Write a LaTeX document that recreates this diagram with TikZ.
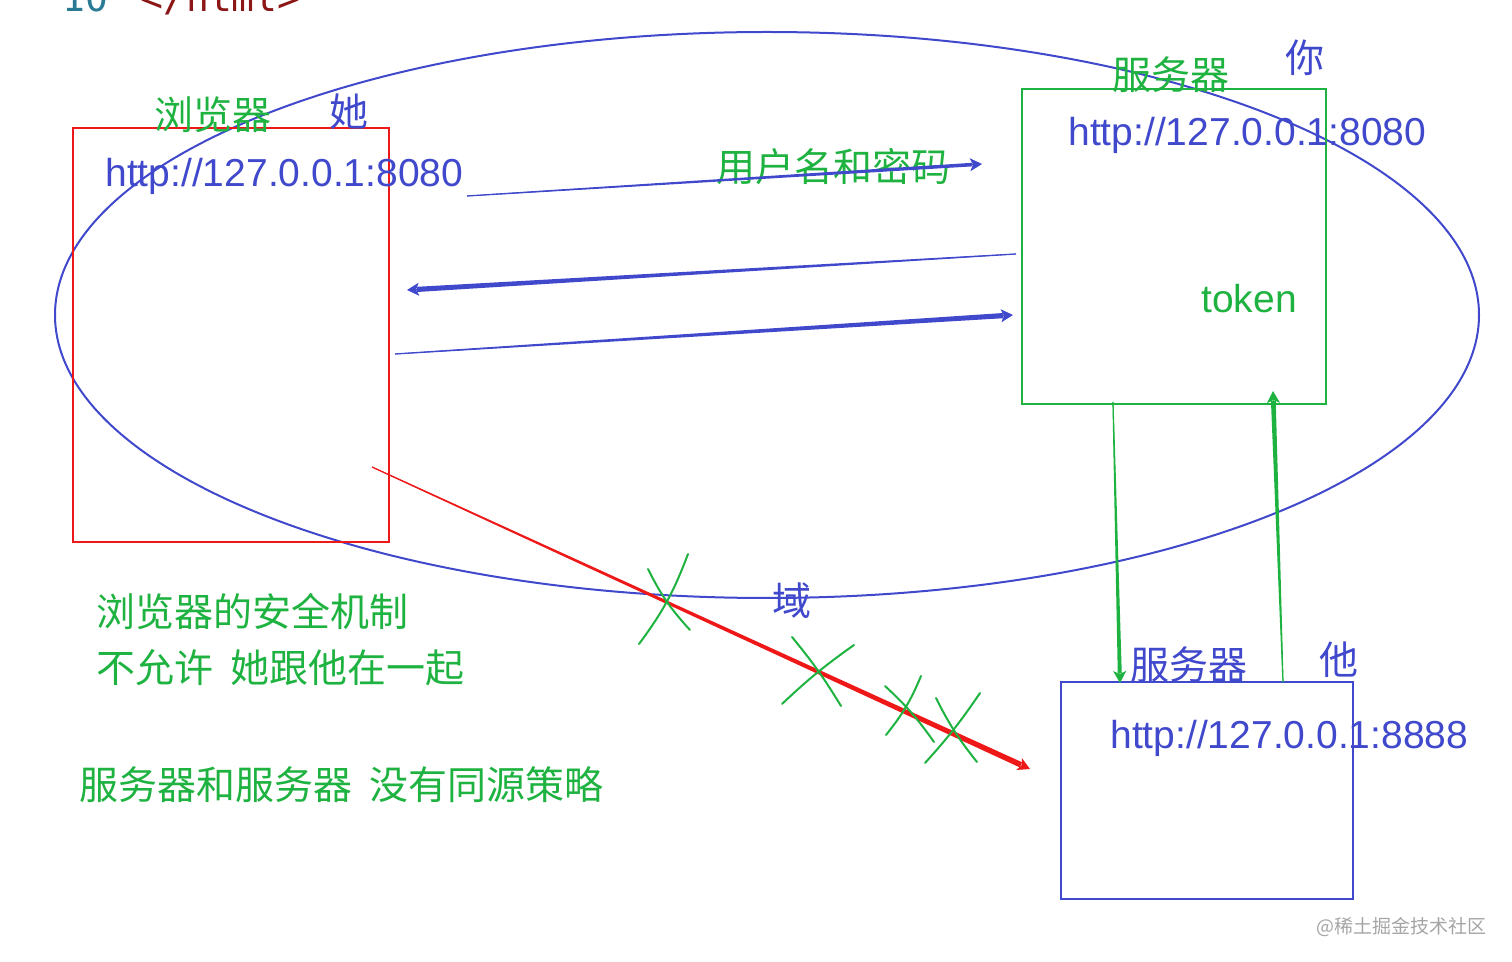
\documentclass[tikz,border=0pt]{standalone}
\usepackage{fontspec}
\setmainfont{Liberation Sans}
\newfontfamily\cjk{Noto Sans CJK SC}
\newfontfamily\codefont{DejaVu Sans Mono}
\usetikzlibrary{calc,arrows.meta}
\definecolor{penblue}{RGB}{64,72,204}
\definecolor{pengreen}{RGB}{30,178,64}
\definecolor{penred}{RGB}{238,24,24}
\definecolor{codeteal}{RGB}{42,122,150}
\definecolor{codered}{RGB}{140,22,22}
\definecolor{markgray}{RGB}{165,165,165}

% pen stroke that gets thicker towards its tip: colour, from, to, half width at the tip
\newcommand{\taper}[4]{%
  \coordinate (tpE) at ($(#3)!5pt!(#2)$);
  \fill [#1] ($(#2)!0.3pt!90:(#3)$) -- ($(#2)!0.3pt!-90:(#3)$) -- ($(tpE)!#4!90:(#2)$) -- ($(tpE)!#4!-90:(#2)$) -- cycle;
  \draw [#1, line width=0.4pt, -{Stealth[length=6pt,width=6.5pt,inset=1.5pt]}] (#2) -- (#3);
}

\begin{document}
\begin{tikzpicture}[x=0.5pt,y=0.5pt,
    urltext/.style={text=penblue, font=\fontsize{19.5}{24}\selectfont},
    zhtext/.style={font=\fontsize{19.5}{24}\selectfont\cjk},
    pagebox/.style={draw=#1, line width=1pt},
    nope/.style={pengreen, line width=1pt, line cap=round}]
\tikzstyle{every node}+=[inner sep=0pt]
\useasboundingbox (0,0) rectangle (1512,-962);
% scrap of the code above, cut by the top edge
\node [anchor=base west, text=codeteal, font=\fontsize{19}{24}\selectfont\codefont] (lineno) at (62,-12) {10};
\node [anchor=base west, text=codered, font=\fontsize{19}{24}\selectfont\codefont] (endtag) at (140,-12) {</html>};
% the domain
\draw [penblue, line width=1pt] (767,-315) ellipse [x radius=712, y radius=283];
\node [zhtext, text=penblue] (domain) at (792,-601) {域};
% the three pages
\node [pagebox=penred, minimum width=158pt, minimum height=207pt] (browser) at (231,-335) {};
\node [pagebox=pengreen, minimum width=152pt, minimum height=157.5pt] (server) at (1174,-246.5) {};
\node [pagebox=penblue, minimum width=146pt, minimum height=108.5pt] (other) at (1207,-790.5) {};
\node [zhtext, text=pengreen, anchor=west] (browsername) at (154,-115) {浏览器};
\node [zhtext, text=penblue] (she) at (349,-112) {她};
\node [urltext, anchor=base west] (browserurl) at (105,-187) {http://127.0.0.1:8080};
\node [zhtext, text=pengreen, anchor=west] (servername) at (1112,-75) {服务器};
\node [zhtext, text=penblue] (you) at (1305,-58) {你};
\node [urltext, anchor=base west] (serverurl) at (1068,-146) {http://127.0.0.1:8080};
\node [text=pengreen, font=\fontsize{19.5}{24}\selectfont, anchor=base west] (token) at (1201,-313) {token};
\node [zhtext, text=penblue, anchor=west] (othername) at (1130,-665) {服务器};
\node [zhtext, text=penblue] (he) at (1339,-660) {他};
\node [urltext, anchor=base west] (otherurl) at (1110,-749) {http://127.0.0.1:8888};
% notes
\node [zhtext, text=pengreen, anchor=west] (login) at (716,-167) {用户名和密码};
\node [zhtext, text=pengreen, anchor=west] (rule) at (96,-612) {浏览器的安全机制};
\node [zhtext, text=pengreen, anchor=west] (rulecont) at (96,-668) {不允许\hspace{0.45em}她跟他在一起};
\node [zhtext, text=pengreen, anchor=west] (nopolicy) at (79,-785) {服务器和服务器\hspace{0.45em}没有同源策略};
\node [text=markgray, font=\fontsize{9.5}{12}\selectfont\cjk, anchor=east] (mark) at (1487,-927) {@稀土掘金技术社区};
% requests
\coordinate (loginfrom) at (467,-196);
\coordinate (loginto) at (982,-164);
\coordinate (tokenfrom) at (1016,-254);
\coordinate (tokento) at (407,-290);
\coordinate (askfrom) at (395,-354);
\coordinate (askto) at (1013,-315);
\coordinate (downfrom) at (1113,-402);
\coordinate (downto) at (1120,-683);
\coordinate (upfrom) at (1283,-682);
\coordinate (upto) at (1273,-391);
\coordinate (crossfrom) at (372,-467);
\coordinate (crossto) at (1030,-769);
\taper{penblue}{loginfrom}{loginto}{0.9pt}
\taper{penblue}{tokenfrom}{tokento}{1.3pt}
\taper{penblue}{askfrom}{askto}{1.3pt}
\taper{pengreen}{downfrom}{downto}{1pt}
\taper{pengreen}{upfrom}{upto}{1.2pt}
\taper{penred}{crossfrom}{crossto}{1.4pt}
% crossed out
\draw [nope] (648,-569) to[bend right=8] (690,-630);
\draw [nope] (688,-554) to[bend left=8] (639,-644);
\draw [nope] (792,-637) to[bend left=4] (841,-706);
\draw [nope] (854,-645) to[bend right=4] (782,-704);
\draw [nope] (885,-686) to[bend left=6] (934,-742);
\draw [nope] (921,-676) to[bend left=8] (886,-735);
\draw [nope] (936,-698) to[bend right=6] (977,-762);
\draw [nope] (980,-693) to[bend left=4] (925,-763);
\end{tikzpicture}
\end{document}
